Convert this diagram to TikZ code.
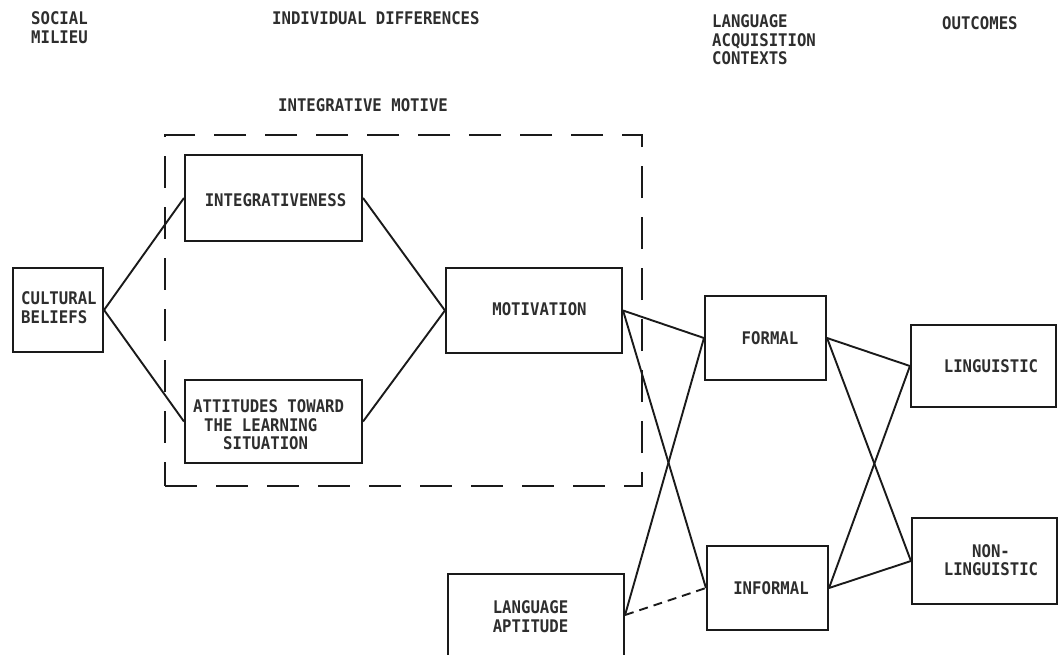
\documentclass[tikz,border=0pt]{standalone}
\usepackage{fontspec}
\newfontfamily\tw[FakeStretch=0.9]{DejaVu Sans Mono Bold}
\definecolor{ink}{HTML}{1A1A1A}
\definecolor{txt}{HTML}{2E2E2E}
\tikzset{
  box/.style={draw=ink, line width=2.1pt, inner sep=0pt, rectangle},
  lbl/.style={font=\tw\fontsize{17.4}{18.5}\selectfont, text=txt, inner sep=0pt},
  link/.style={draw=ink, line width=1.9pt},
  frame/.style={draw=ink, line width=2pt, dash pattern=on 32pt off 19pt, inner sep=0pt, rectangle},
  dlink/.style={link, dash pattern=on 9pt off 6pt}
}
\begin{document}
\begin{tikzpicture}[x=1pt,y=-1pt]
\clip (0,0) rectangle (1058,654);
\fill[white] (0,0) rectangle (1058,654);

% column headings
\node[lbl, anchor=west, align=left] (hsoc) at (31,27.5) {SOCIAL\\MILIEU};
\node[lbl, anchor=west] (hind) at (272,18.5) {INDIVIDUAL DIFFERENCES};
\node[lbl, anchor=west, align=left] (hlac) at (712,40) {LANGUAGE\\ACQUISITION\\CONTEXTS};
\node[lbl, anchor=west] (hout) at (942,23) {OUTCOMES};
\node[lbl, anchor=west] (hint) at (278,105.5) {INTEGRATIVE MOTIVE};

% integrative motive frame
\node[frame, minimum width=477pt, minimum height=351pt] (im) at (403.5,310.5) {};

% boxes
\node[box, minimum width=90pt, minimum height=84pt] (cb) at (58,310) {};
\node[box, minimum width=177pt, minimum height=86pt] (integ) at (273.5,198) {};
\node[box, minimum width=177pt, minimum height=83pt] (att) at (273.5,421.5) {};
\node[box, minimum width=176pt, minimum height=85pt] (mot) at (534,310.5) {};
\node[box, minimum width=121pt, minimum height=84pt] (formal) at (765.5,338) {};
\node[box, minimum width=121pt, minimum height=84pt] (informal) at (767.5,588) {};
\node[box, minimum width=176pt, minimum height=82pt] (la) at (536,615) {};
\node[box, minimum width=145pt, minimum height=82pt] (ling) at (983.5,366) {};
\node[box, minimum width=145pt, minimum height=86pt] (nonling) at (984.5,561) {};

% box texts
\node[lbl, anchor=west, align=left] (tcb) at (21,307.5) {CULTURAL\\BELIEFS};
\node[lbl] (tinteg) at (275.5,200.5) {INTEGRATIVENESS};
\node[lbl, anchor=west, align=left] (tatt) at (193,425) {ATTITUDES TOWARD\\\hspace*{11pt}THE LEARNING\\\hspace*{30pt}SITUATION};
\node[lbl] (tmot) at (539.5,309) {MOTIVATION};
\node[lbl] (tformal) at (770,338.5) {FORMAL};
\node[lbl] (tinformal) at (771,588.5) {INFORMAL};
\node[lbl, align=center] (tla) at (530.5,616.5) {LANGUAGE\\APTITUDE};
\node[lbl] (tling) at (991,366.5) {LINGUISTIC};
\node[lbl, align=center] (tnonling) at (991,560) {NON-\\LINGUISTIC};

% connectors
\draw[link] (cb.east) -- (integ.west);
\draw[link] (cb.east) -- (att.west);
\draw[link] (integ.east) -- (mot.west);
\draw[link] (att.east) -- (mot.west);
\draw[link] (mot.east) -- (formal.west);
\draw[link] (mot.east) -- (informal.west);
\draw[link] (la.east) -- (formal.west);
\draw[dlink] (la.east) -- (informal.west);
\draw[link] (formal.east) -- (ling.west);
\draw[link] (formal.east) -- (nonling.west);
\draw[link] (informal.east) -- (ling.west);
\draw[link] (informal.east) -- (nonling.west);
\end{tikzpicture}
\end{document}
